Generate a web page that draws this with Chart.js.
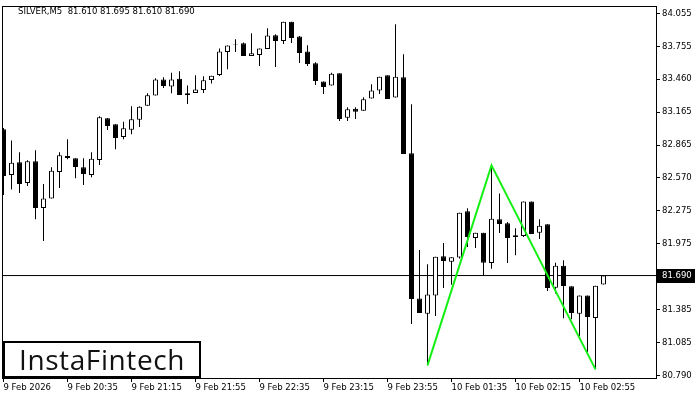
<!DOCTYPE html>
<html>
<head>
<meta charset="utf-8">
<script src="https://cdn.jsdelivr.net/npm/chart.js@4.4.1/dist/chart.umd.min.js"></script>
<style>
html, body { margin: 0; padding: 0; background: #fff; }
#wrap { position: relative; width: 700px; height: 400px; }
#logo {
    position: absolute; left: 3px; top: 341px; width: 194px; height: 33px;
    border: 2px solid #000; background: #fff; color: #111;
    font-family: 'Open Sans'; font-size: 28px; font-weight: 500; letter-spacing: 0.6px;
    line-height: 33px; text-align: center;
}
</style>
</head>
<body>
<div id="wrap">
<canvas id="chart" width="700" height="400"></canvas>
<div id="logo">InstaFintech</div>
</div>
<script>
const header = 'SILVER,M5  81.610 81.695 81.610 81.690'

// M5 candles, left to right
const opens = [83.009, 82.597, 82.711, 82.524, 82.720, 82.299, 82.384, 82.624, 82.768, 82.747,
    82.666, 82.597, 82.732, 83.108, 83.054, 82.939, 83.006, 83.096, 83.222, 83.313,
    83.457, 83.394, 83.466, 83.333, 83.336, 83.363, 83.453, 83.498, 83.706, 83.773,
    83.784, 83.670, 83.679, 83.733, 83.857, 83.805, 83.980, 83.845, 83.710, 83.604,
    83.439, 83.403, 83.514, 83.114, 83.195, 83.177, 83.286, 83.358, 83.496, 83.295,
    83.478, 82.792, 81.484, 81.346, 81.509, 81.863, 81.815, 81.852, 82.269, 82.028,
    82.077, 81.803, 82.197, 82.161, 82.053, 82.046, 82.357, 82.077, 82.152, 81.581,
    81.779, 81.593, 81.346, 81.511, 81.307, 81.610]
const highs = [83.020, 82.909, 82.801, 82.729, 82.819, 82.515, 82.666, 82.801, 82.919, 82.747,
    82.747, 82.801, 83.126, 83.110, 83.054, 83.078, 83.216, 83.216, 83.333, 83.469,
    83.478, 83.520, 83.532, 83.403, 83.496, 83.487, 83.493, 83.737, 83.764, 83.821,
    83.791, 83.875, 83.737, 83.920, 83.866, 83.980, 83.980, 83.850, 83.766, 83.613,
    83.439, 83.520, 83.514, 83.207, 83.207, 83.297, 83.415, 83.484, 83.496, 83.956,
    83.685, 83.234, 81.920, 81.791, 81.860, 81.983, 81.854, 82.257, 82.296, 82.077,
    82.077, 82.684, 82.431, 82.173, 82.116, 82.357, 82.357, 82.197, 82.152, 81.806,
    81.827, 81.593, 81.509, 81.511, 81.599, 81.695]
const lows = [82.416, 82.467, 82.434, 82.497, 82.197, 82.001, 82.384, 82.479, 82.738, 82.567,
    82.506, 82.576, 82.687, 83.002, 82.828, 82.919, 82.964, 83.029, 83.222, 83.313,
    83.381, 83.333, 83.318, 83.237, 83.336, 83.336, 83.421, 83.489, 83.550, 83.706,
    83.670, 83.670, 83.580, 83.733, 83.571, 83.778, 83.787, 83.607, 83.580, 83.408,
    83.327, 83.403, 83.084, 83.084, 83.102, 83.177, 83.286, 83.327, 83.282, 83.295,
    82.786, 81.253, 81.352, 80.880, 81.325, 81.577, 81.608, 81.843, 81.947, 81.938,
    81.692, 81.752, 82.073, 81.803, 81.872, 82.037, 82.064, 82.019, 81.550, 81.529,
    81.304, 81.295, 81.144, 80.995, 80.844, 81.610]
const closes = [82.587, 82.708, 82.515, 82.720, 82.299, 82.384, 82.636, 82.774, 82.750, 82.669,
    82.606, 82.744, 83.117, 83.038, 82.930, 83.018, 83.099, 83.213, 83.315, 83.457,
    83.399, 83.457, 83.318, 83.318, 83.367, 83.451, 83.493, 83.710, 83.764, 83.778,
    83.670, 83.694, 83.737, 83.854, 83.805, 83.980, 83.832, 83.697, 83.598, 83.444,
    83.390, 83.511, 83.102, 83.189, 83.168, 83.279, 83.360, 83.484, 83.282, 83.484,
    82.786, 81.478, 81.352, 81.518, 81.860, 81.821, 81.854, 82.257, 82.037, 82.077,
    81.805, 82.203, 82.155, 82.028, 82.037, 82.357, 82.064, 82.140, 81.577, 81.779,
    81.595, 81.352, 81.509, 81.316, 81.599, 81.690]

const xTickIdx = [0, 8, 16, 24, 32, 40, 48, 56, 64, 72]
const xLabels = ['9 Feb 2026', '9 Feb 20:35', '9 Feb 21:15', '9 Feb 21:55', '9 Feb 22:35',
    '9 Feb 23:15', '9 Feb 23:55', '10 Feb 01:35', '10 Feb 02:15', '10 Feb 02:55']
const yTicks = [84.055, 83.755, 83.460, 83.165, 82.865, 82.570, 82.275, 81.975, 81.690, 81.385, 81.085, 80.790]

// double bottom pattern (green)
const patternIdx = [53, 61, 74]
const patternPrice = [80.880, 82.684, 80.844]

const lastPrice = 81.690
const xMin = -0.1875, xMax = 81.5625
const yMin = 80.766, yMax = 84.121

const font = { family: 'DejaVu Sans', size: 8.5 }

let bodies = [], wicks = [], bodyFill = []
for (let i = 0; i < opens.length; i++) {
    bodies.push({ x: i, y: [opens[i], closes[i]] })
    wicks.push({ x: i, y: [lows[i], highs[i]] })
    bodyFill.push(closes[i] >= opens[i] ? '#ffffff' : '#000000')
}
let pattern = patternIdx.map((v, i) => ({ x: v, y: patternPrice[i] }))

const frame = {
    id: 'frame',
    afterDraw(chart) {
        const c = chart.ctx
        const a = chart.chartArea
        c.save()
        c.strokeStyle = '#000'
        c.lineWidth = 1
        c.strokeRect(a.left + 0.5, a.top + 0.5, a.right - a.left, a.bottom - a.top)
        // current price box on the axis
        const py = chart.scales.y.getPixelForValue(lastPrice)
        c.fillStyle = '#000'
        c.fillRect(a.right + 1, Math.round(py) - 7, 38, 14)
        c.fillStyle = '#fff'
        c.font = '8.5px "DejaVu Sans"'
        c.textBaseline = 'middle'
        c.fillText(lastPrice.toFixed(3), a.right + 6, py + 0.5)
        // header
        c.fillStyle = '#000'
        c.textBaseline = 'alphabetic'
        c.fillText(header, 18, 14)
        c.restore()
    }
}

new Chart(document.getElementById('chart'), {
    type: 'bar',
    data: {
        datasets: [
            {
                type: 'line',
                data: pattern,
                borderColor: '#14f014',
                borderWidth: 2,
                pointRadius: 0,
                order: 0
            },
            {
                data: bodies,
                backgroundColor: bodyFill,
                borderColor: '#000',
                borderWidth: 1,
                borderSkipped: false,
                inflateAmount: 0,
                barThickness: 5,
                grouped: false,
                order: 1
            },
            {
                data: wicks,
                backgroundColor: '#000',
                borderWidth: 0,
                inflateAmount: 0,
                barThickness: 1,
                grouped: false,
                order: 2
            },
            {
                type: 'line',
                data: [{ x: xMin, y: lastPrice }, { x: xMax, y: lastPrice }],
                borderColor: '#000',
                borderWidth: 1,
                pointRadius: 0,
                order: 3
            }
        ]
    },
    options: {
        responsive: false,
        animation: false,
        layout: { padding: { top: 6, left: 2, right: 0, bottom: 0 } },
        plugins: {
            legend: { display: false },
            tooltip: { enabled: false }
        },
        scales: {
            x: {
                type: 'linear',
                min: xMin,
                max: xMax,
                offset: false,
                grid: { display: true, offset: false, drawOnChartArea: false, tickLength: 4, color: '#000' },
                border: { display: false },
                afterBuildTicks: (s) => { s.ticks = xTickIdx.map(v => ({ value: v })) },
                afterFit: (s) => { s.height = 22; s.paddingLeft = 0; s.paddingRight = 0 },
                ticks: {
                    autoSkip: false,
                    maxRotation: 0,
                    align: 'start',
                    padding: 1,
                    color: '#000',
                    font: font,
                    callback: (v, i) => xLabels[i]
                }
            },
            y: {
                position: 'right',
                min: yMin,
                max: yMax,
                grid: { display: true, drawOnChartArea: false, tickLength: 4, color: '#000' },
                border: { display: false },
                afterBuildTicks: (s) => { s.ticks = yTicks.map(v => ({ value: v })) },
                afterFit: (s) => { s.width = 44; s.paddingTop = 0; s.paddingBottom = 0 },
                ticks: {
                    autoSkip: false,
                    padding: 2,
                    color: '#000',
                    font: font,
                    callback: (v) => v.toFixed(3)
                }
            }
        }
    },
    plugins: [frame]
})
</script>
</body>
</html>
